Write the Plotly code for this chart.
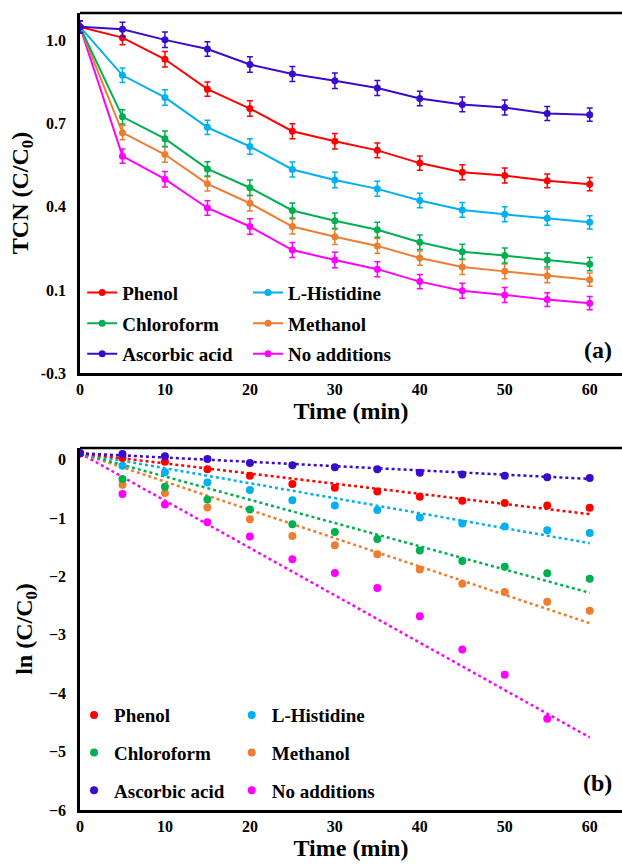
import plotly.graph_objects as go

# ---------------- data ----------------
time = [0, 5, 10, 15, 20, 25, 30, 35, 40, 45, 50, 55, 60]
series_names = ["Phenol", "L-Histidine", "Chloroform", "Methanol", "Ascorbic acid", "No additions"]
colors = {"Phenol": "#FF0000", "L-Histidine": "#00B0F0", "Chloroform": "#00B050",
          "Methanol": "#ED7D31", "Ascorbic acid": "#3A0BCF", "No additions": "#FF00FF"}

# (a) TCN (C/C0)
tcn_phenol = [1.05, 1.011, 0.933, 0.825, 0.755, 0.673, 0.637, 0.604, 0.558, 0.525, 0.513, 0.494, 0.482]
tcn_histidine = [1.05, 0.875, 0.795, 0.687, 0.618, 0.535, 0.497, 0.465, 0.423, 0.389, 0.373, 0.359, 0.344]
tcn_chloroform = [1.05, 0.725, 0.646, 0.537, 0.469, 0.387, 0.350, 0.317, 0.272, 0.238, 0.224, 0.208, 0.193]
tcn_methanol = [1.05, 0.668, 0.589, 0.483, 0.413, 0.329, 0.292, 0.259, 0.215, 0.183, 0.167, 0.151, 0.137]
tcn_ascorbic = [1.05, 1.041, 1.003, 0.970, 0.914, 0.880, 0.855, 0.829, 0.791, 0.770, 0.759, 0.737, 0.733]
tcn_none = [1.05, 0.583, 0.500, 0.396, 0.329, 0.244, 0.208, 0.175, 0.130, 0.097, 0.082, 0.065, 0.052]
tcn_err = [0.022, 0.026, 0.028, 0.026, 0.028, 0.027, 0.028, 0.027, 0.026, 0.027, 0.027, 0.025, 0.024]

# (b) ln (C/C0)
ln_phenol = [0.11, 0.03, -0.034, -0.166, -0.275, -0.418, -0.481, -0.544, -0.636, -0.704, -0.744, -0.784, -0.825]
ln_histidine = [0.11, -0.103, -0.217, -0.389, -0.521, -0.693, -0.784, -0.864, -0.990, -1.093, -1.145, -1.208, -1.254]
ln_chloroform = [0.11, -0.332, -0.464, -0.681, -0.853, -1.105, -1.237, -1.357, -1.557, -1.735, -1.832, -1.947, -2.038]
ln_methanol = [0.11, -0.429, -0.572, -0.818, -1.019, -1.306, -1.466, -1.620, -1.883, -2.124, -2.268, -2.433, -2.588]
ln_ascorbic = [0.11, 0.098, 0.058, 0.012, -0.057, -0.097, -0.131, -0.166, -0.223, -0.252, -0.275, -0.303, -0.315]
ln_none = [0.11, -0.589, -0.767, -1.070, -1.316, -1.706, -1.942, -2.199, -2.680, -3.253, -3.682, -4.438, None]

# linear trendlines (intercept, slope)
trend_intercept = {"Phenol": 0.11, "L-Histidine": 0.11, "Chloroform": 0.11,
                   "Methanol": 0.11, "Ascorbic acid": 0.11, "No additions": 0.11}
trend_slope = {"Phenol": -0.01738, "L-Histidine": -0.02567, "Chloroform": -0.03983,
               "Methanol": -0.0485, "Ascorbic acid": -0.00733, "No additions": -0.0811}
trend_x = [0, 60]

tcn = dict(zip(series_names, [tcn_phenol, tcn_histidine, tcn_chloroform, tcn_methanol, tcn_ascorbic, tcn_none]))
lnc = dict(zip(series_names, [ln_phenol, ln_histidine, ln_chloroform, ln_methanol, ln_ascorbic, ln_none]))

x_ticks = [0, 10, 20, 30, 40, 50, 60]
ya_tickvals = [-0.2, 0.1, 0.4, 0.7, 1.0]
ya_ticktext = ["-0.3", "0.1", "0.4", "0.7", "1.0"]
yb_tickvals = [0, -1, -2, -3, -4, -5, -6]

# ---------------- figure ----------------
FONT = "Times New Roman, Liberation Serif, serif"
col1 = ["Phenol", "Chloroform", "Ascorbic acid"]

fig = go.Figure()

draw_order = ["No additions", "Methanol", "Chloroform", "L-Histidine", "Phenol", "Ascorbic acid"]
legend_order = {n: i for i, n in enumerate(series_names)}

for name in draw_order:
    c = colors[name]
    fig.add_trace(go.Scatter(
        x=time, y=tcn[name], name=name, mode="lines+markers",
        line=dict(color=c, width=2), marker=dict(color=c, size=7),
        error_y=dict(type="data", array=tcn_err, color=c, thickness=1.5, width=3),
        xaxis="x", yaxis="y",
        legend="legend" if name in col1 else "legend2",
        legendgroup="a" + name, legendrank=legend_order[name],
    ))

for name in draw_order:
    c = colors[name]
    ty = [trend_intercept[name] + trend_slope[name] * xv for xv in trend_x]
    fig.add_trace(go.Scatter(
        x=trend_x, y=ty, mode="lines", showlegend=False,
        line=dict(color=c, width=2.5, dash="dot"), xaxis="x2", yaxis="y2",
        hoverinfo="skip",
    ))

for name in draw_order:
    c = colors[name]
    fig.add_trace(go.Scatter(
        x=time, y=lnc[name], name=name, mode="markers",
        marker=dict(color=c, size=8), xaxis="x2", yaxis="y2",
        legend="legend3" if name in col1 else "legend4",
        legendgroup="b" + name, legendrank=legend_order[name],
    ))

axis_common = dict(
    showline=True, linecolor="black", linewidth=2.5, ticks="", showgrid=False,
    zeroline=False, tickfont=dict(family=FONT, size=16, color="black", weight="bold"),
)
title_font = dict(family=FONT, size=24, weight="bold", color="black")

fig.update_layout(
    width=622, height=864,
    margin=dict(l=80, r=0, t=13, b=54),
    paper_bgcolor="white", plot_bgcolor="white",
    font=dict(family=FONT, color="black"),
    xaxis=dict(axis_common, domain=[0, 1], range=[0, 63.8], tickvals=x_ticks, anchor="y",
               title=dict(text="Time (min)", font=title_font, standoff=4)),
    yaxis=dict(axis_common, domain=[0.5483, 1.0], range=[-0.2, 1.1], tickvals=ya_tickvals,
               ticktext=ya_ticktext, anchor="x", ticklabelstandoff=8,
               title=dict(text="TCN (C/C<sub>0</sub>)", font=title_font, standoff=6)),
    xaxis2=dict(axis_common, domain=[0, 1], range=[0, 63.8], tickvals=x_ticks, anchor="y2",
                title=dict(text="Time (min)", font=title_font, standoff=4)),
    yaxis2=dict(axis_common, domain=[0.0, 0.4542], range=[-6, 0.2], tickvals=yb_tickvals,
                anchor="x2", ticklabelstandoff=8,
                title=dict(text="ln (C/C<sub>0</sub>)", font=title_font, standoff=10)),
    showlegend=True,
)

leg_font = dict(family=FONT, size=19, color="black", weight="bold")
leg_common = dict(font=leg_font, bgcolor="rgba(0,0,0,0)", borderwidth=0,
                  xanchor="left", yanchor="top", itemclick=False, tracegroupgap=3)
fig.update_layout(
    legend=dict(leg_common, x=0.004, y=0.673),
    legend2=dict(leg_common, x=0.31, y=0.673),
    legend3=dict(leg_common, x=-0.011, y=0.143, tracegroupgap=10),
    legend4=dict(leg_common, x=0.28, y=0.143, tracegroupgap=10),
)

for yref in ["y domain", "y2 domain"]:
    fig.add_shape(type="line", xref="paper", yref=yref, x0=0, x1=1, y0=1, y1=1,
                  line=dict(color="black", width=2.5))

fig.add_annotation(text="(a)", xref="paper", yref="y domain", x=0.985, y=0.065,
                   xanchor="right", yanchor="middle", showarrow=False, font=title_font)
fig.add_annotation(text="(b)", xref="paper", yref="y2 domain", x=0.985, y=0.075,
                   xanchor="right", yanchor="middle", showarrow=False, font=title_font)

fig.write_html("out.html", config={"displayModeBar": False},
               post_script="document.body.style.margin='0';")
